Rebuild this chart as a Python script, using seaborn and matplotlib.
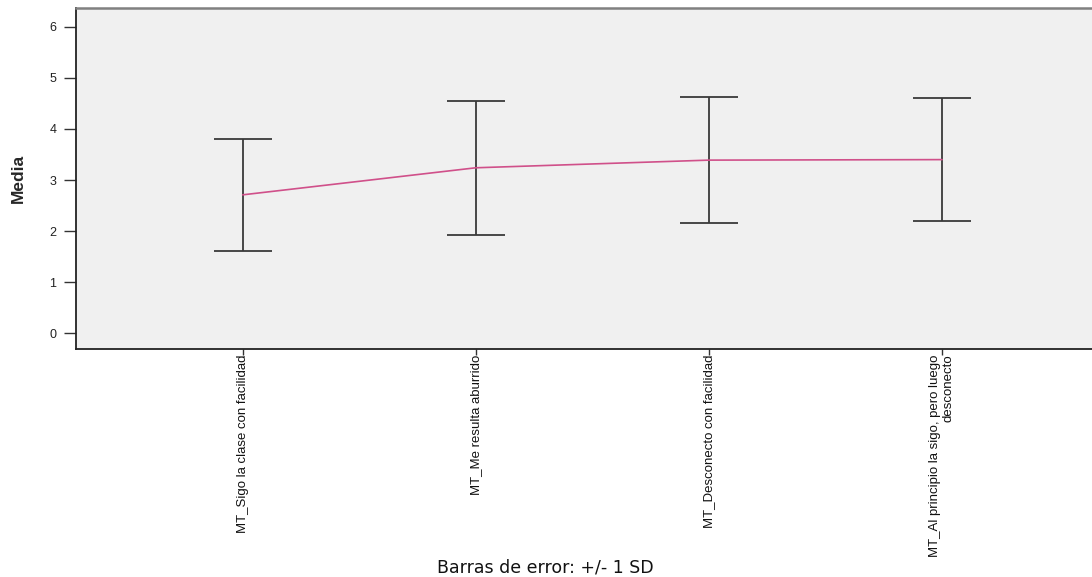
import matplotlib
matplotlib.use("Agg")
import matplotlib.pyplot as plt
from matplotlib import font_manager
import seaborn as sns
import pandas as pd

categories = [
    "MT_Sigo la clase con facilidad",
    "MT_Me resulta aburrido",
    "MT_Desconecto con facilidad",
    "MT_Al principio la sigo, pero luego\ndesconecto",
]
means = [2.71, 3.24, 3.39, 3.40]
sds = [1.10, 1.31, 1.23, 1.21]
y_ticks = [0, 1, 2, 3, 4, 5, 6]

names = {f.name for f in font_manager.fontManager.ttflist}
narrow = "Liberation Sans Narrow" if "Liberation Sans Narrow" in names else "Liberation Sans"

sns.set_theme(style="ticks")
plt.rcParams["font.family"] = ["Liberation Sans", "DejaVu Sans"]

fig = plt.figure(figsize=(10.92, 5.77), dpi=100)
ax = fig.add_axes([76/1092, 1 - 349/577, 1 - 76/1092 + 0.01, (349 - 8)/577])
ax.set_facecolor("#F0F0F0")

df = pd.DataFrame({"pos": range(len(categories)), "mean": means, "sd": sds})
ax.errorbar(df["pos"], df["mean"], yerr=df["sd"], fmt="none", ecolor="#3a3a3a",
            elinewidth=1.3, capsize=20.9, capthick=1.3, zorder=2)
sns.lineplot(data=df, x="pos", y="mean", color="#D0508A", linewidth=1.2, ax=ax, zorder=3)

ax.set_xlim(-0.715, 3.69)
ax.set_ylim(-0.31, 6.37)
ax.set_yticks(y_ticks)
ax.set_yticklabels([str(t) for t in y_ticks], fontsize=9, color="#222222",
                   family=["Liberation Sans", "DejaVu Sans"])
ax.set_xticks(range(len(categories)))
ax.set_xticklabels(categories, rotation=90, fontsize=9.5, family=[narrow, "DejaVu Sans"],
                   multialignment="right", color="#111111")
ax.tick_params(axis="y", direction="out", length=9, width=1, color="#333333", pad=5)
ax.tick_params(axis="x", direction="out", length=4, width=1, color="#333333", pad=0)

for s in ["left", "bottom"]:
    ax.spines[s].set_color("#222222")
    ax.spines[s].set_linewidth(1.3)
ax.spines["top"].set_color("#808080")
ax.spines["top"].set_linewidth(1.8)
ax.spines["right"].set_visible(False)

ax.set_xlabel("")
ax.set_ylabel("Media", fontsize=12.5, fontweight="bold", family=[narrow, "DejaVu Sans"], labelpad=17)

fig.text(545/1092, 1 - 567/577, "Barras de error: +/- 1 SD", ha="center", va="center",
         fontsize=12.5, color="#111111", family=["DejaVu Sans"])

fig.savefig("out.png", dpi=100)
